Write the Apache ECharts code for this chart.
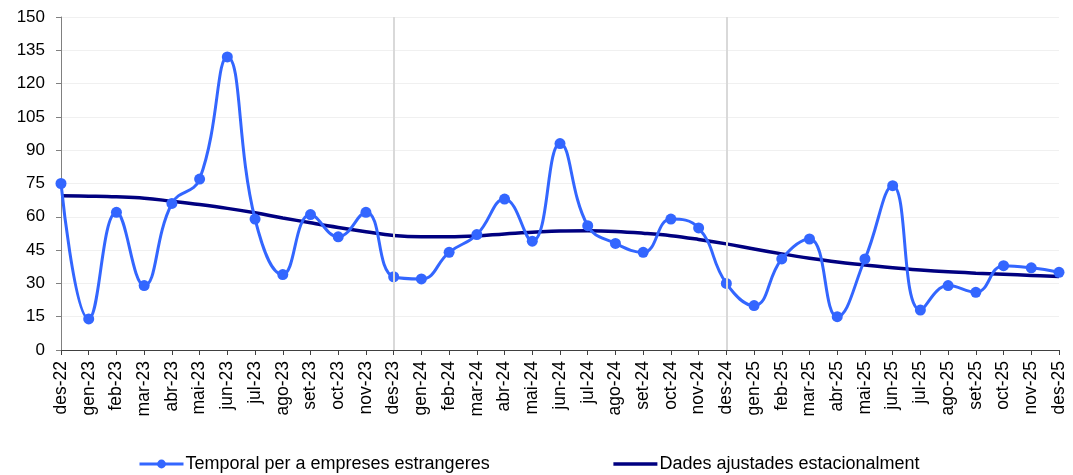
<!DOCTYPE html>
<html lang="ca">
<head>
    <meta charset="UTF-8">
    <title>Temporal per a empreses estrangeres</title>
    <script src="https://cdn.jsdelivr.net/npm/echarts@6/dist/echarts.min.js"></script>
    <style>
        html, body { margin: 0; padding: 0; background: #fff; }
        #chart { width: 1073px; height: 475px; }
    </style>
</head>
<body>
    <div id="chart"></div>
    <script>
        // mesos
        const months = ['des-22', 'gen-23', 'feb-23', 'mar-23', 'abr-23', 'mai-23', 'jun-23', 'jul-23', 'ago-23',
            'set-23', 'oct-23', 'nov-23', 'des-23', 'gen-24', 'feb-24', 'mar-24', 'abr-24', 'mai-24', 'jun-24',
            'jul-24', 'ago-24', 'set-24', 'oct-24', 'nov-24', 'des-24', 'gen-25', 'feb-25', 'mar-25', 'abr-25',
            'mai-25', 'jun-25', 'jul-25', 'ago-25', 'set-25', 'oct-25', 'nov-25', 'des-25'];

        // dades brutes
        const temporal = [75, 14, 62, 29, 66, 77, 132, 59, 34, 61, 51, 62, 33, 32, 44, 52, 68, 49, 93,
            56, 48, 44, 59, 55, 30, 20, 41, 50, 15, 41, 74, 18, 29, 26, 38, 37, 35];

        // dades ajustades estacionalment
        const ajustades = [69.5, 69.3, 69, 68.4, 67, 65.5, 63.8, 61.8, 59.5, 57.3, 55.2, 53.3, 51.6, 51, 51,
            51.4, 52.3, 53, 53.6, 53.7, 53.4, 52.6, 51.5, 49.8, 47.8, 45.5, 43.3, 41.3, 39.6, 38.3, 37, 36,
            35.2, 34.6, 34.1, 33.6, 33.1];

        const yTicks = { min: 0, max: 150, interval: 15 };
        const separators = ['des-23', 'des-24'];

        const chart = echarts.init(document.getElementById('chart'));
        chart.setOption({
            animation: false,
            textStyle: { fontFamily: 'Liberation Sans, Arial, sans-serif' },
            grid: { left: 61, right: 14, top: 17, bottom: 125 },
            legend: {
                left: 133,
                bottom: -3,
                itemGap: 122,
                itemWidth: 44,
                itemHeight: 11,
                textStyle: { fontSize: 18, color: '#000', padding: [0, 0, 0, -3] },
                data: [
                    { name: 'Temporal per a empreses estrangeres', lineStyle: { width: 3 } },
                    { name: 'Dades ajustades estacionalment', lineStyle: { width: 3.5 }, itemStyle: { opacity: 0 } }
                ]
            },
            xAxis: {
                type: 'category',
                data: months,
                boundaryGap: false,
                axisLine: { lineStyle: { color: '#404040', width: 1 } },
                axisTick: { alignWithLabel: true, length: 5, lineStyle: { color: '#404040' } },
                axisLabel: { rotate: 90, interval: 0, fontSize: 17.5, color: '#000', margin: 11 },
                splitLine: { show: false }
            },
            yAxis: {
                type: 'value',
                min: yTicks.min,
                max: yTicks.max,
                interval: yTicks.interval,
                axisLine: { show: true, lineStyle: { color: '#808080', width: 1 } },
                axisTick: { show: true, length: 5, lineStyle: { color: '#808080' } },
                axisLabel: { fontSize: 17, color: '#000', margin: 16 },
                splitLine: { lineStyle: { color: '#f0f0f0', width: 1 } }
            },
            series: [{
                name: 'Dades ajustades estacionalment',
                type: 'line',
                data: ajustades,
                smooth: 0.4,
                symbol: 'none',
                z: 2,
                lineStyle: { color: '#000080', width: 3.5 },
                itemStyle: { color: '#000080' },
                markLine: {
                    silent: true,
                    symbol: 'none',
                    label: { show: false },
                    lineStyle: { color: '#d9d9d9', width: 2, type: 'solid' },
                    data: separators.map(m => ({ xAxis: m }))
                }
            }, {
                name: 'Temporal per a empreses estrangeres',
                type: 'line',
                data: temporal,
                smooth: 0.45,
                symbol: 'circle',
                symbolSize: 11,
                z: 3,
                lineStyle: { color: '#3366ff', width: 3 },
                itemStyle: { color: '#3366ff' }
            }]
        });
    </script>
</body>
</html>
